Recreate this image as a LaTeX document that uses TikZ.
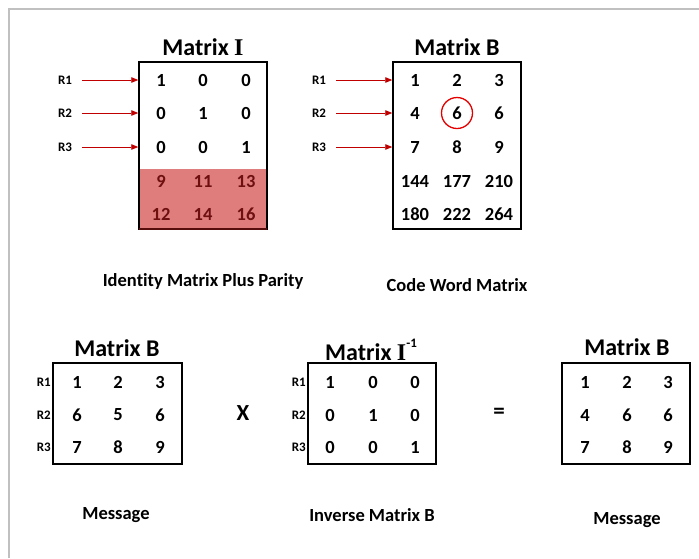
\documentclass[tikz,border=0pt]{standalone}
\usepackage{fontspec}
\setmainfont[Ligatures=CommonOff]{Carlito}
\newfontfamily\slabfont{Liberation Serif}
\usetikzlibrary{arrows.meta,calc}
\definecolor{framegray}{HTML}{C0C0C0}
\definecolor{arrowred}{HTML}{C00000}
\definecolor{parityfill}{HTML}{DF7C7C}
\definecolor{paritytext}{HTML}{6E1010}
\tikzset{
  num/.style={font=\bfseries\fontsize{18.5}{21}\selectfont, inner sep=0pt, anchor=center},
  pnum/.style={num, text=paritytext},
  title/.style={font=\bfseries\fontsize{24}{27}\selectfont, inner sep=0pt},
  rlab/.style={font=\bfseries\fontsize{13}{15}\selectfont, inner sep=0pt},
  caption/.style={font=\bfseries\fontsize{18.5}{21}\selectfont, inner sep=0pt},
  op/.style={font=\bfseries\fontsize{23}{26}\selectfont, inner sep=0pt},
  mbox/.style={draw=black, line width=1.5pt, inner sep=0pt},
  rowarrow/.style={draw=arrowred, line width=0.9pt, -{Triangle[length=7pt,width=5.5pt]}},
}
\newcommand{\slabI}{{\slabfont\bfseries I}}
\newcommand{\invexp}{\raisebox{1.15ex}{\fontsize{13}{13}\selectfont\bfseries -1}}
\begin{document}
\begin{tikzpicture}[x=1pt,y=-1pt]
\useasboundingbox (0,0) rectangle (699,558);
% page frame
\draw[framegray, line width=2pt] (9,558) -- (9,9) -- (699,9);

% ---------- Matrix I with parity rows ----------
\fill[parityfill] (139,169) rectangle (267,229);
\node[mbox, minimum width=128pt, minimum height=167pt] (boxI) at (203,145.5) {};
\draw[paritytext!80!black, line width=1.5pt] (139,229) -- (267,229);
\node[title] (tI) at (203,47) {Matrix \slabI};
\foreach \r/\y in {1/80,2/113,3/147} {
  \node[rlab] (iR\r) at (65,\y) {R\r};
  \draw[rowarrow] ([xshift=10pt]iR\r.east) -- (iR\r -| boxI.west);
}
\node[num] (i11) at (161,80) {1};  \node[num] (i12) at (203,80) {0};  \node[num] (i13) at (246,80) {0};
\node[num] (i21) at (161,113) {0}; \node[num] (i22) at (203,113) {1}; \node[num] (i23) at (246,113) {0};
\node[num] (i31) at (161,147) {0}; \node[num] (i32) at (203,147) {0}; \node[num] (i33) at (246,147) {1};
\node[pnum] (i41) at (161,181) {9};  \node[pnum] (i42) at (203,181) {11}; \node[pnum] (i43) at (246,181) {13};
\node[pnum] (i51) at (161,214) {12}; \node[pnum] (i52) at (203,214) {14}; \node[pnum] (i53) at (246,214) {16};
\node[caption] (capI) at (203,281) {Identity Matrix Plus Parity};

% ---------- Code word matrix ----------
\node[mbox, minimum width=128pt, minimum height=167pt] (boxC) at (457,145.5) {};
\node[title] (tC) at (457,47) {Matrix B};
\foreach \r/\y in {1/80,2/113,3/147} {
  \node[rlab] (cR\r) at (319,\y) {R\r};
  \draw[rowarrow] ([xshift=10pt]cR\r.east) -- (cR\r -| boxC.west);
}
\node[num] (c11) at (415,80) {1};  \node[num] (c12) at (457,80) {2};  \node[num] (c13) at (499,80) {3};
\node[num] (c21) at (415,113) {4}; \node[num] (c22) at (457,113) {6}; \node[num] (c23) at (499,113) {6};
\node[num] (c31) at (415,147) {7}; \node[num] (c32) at (457,147) {8}; \node[num] (c33) at (499,147) {9};
\node[num] (c41) at (415,181) {144}; \node[num] (c42) at (457,181) {177}; \node[num] (c43) at (499,181) {210};
\node[num] (c51) at (415,214) {180}; \node[num] (c52) at (457,214) {222}; \node[num] (c53) at (499,214) {264};
\node[draw=red!90!black, line width=1.3pt, circle, minimum size=31pt, inner sep=0pt] (mark) at (c22) {};
\node[caption] (capC) at (457,285) {Code Word Matrix};

% ---------- Received message ----------
\node[mbox, minimum width=129pt, minimum height=101pt] (boxM) at (117.5,413.5) {};
\node[title] (tM) at (117,348) {Matrix B};
\foreach \r/\y in {1/382,2/415,3/447} \node[rlab, anchor=east] (mR\r) at (51,\y) {R\r};
\node[num] (m11) at (77,382) {1}; \node[num] (m12) at (118,382) {2}; \node[num] (m13) at (160,382) {3};
\node[num] (m21) at (77,415) {6}; \node[num] (m22) at (118,415) {5}; \node[num] (m23) at (160,415) {6};
\node[num] (m31) at (77,447) {7}; \node[num] (m32) at (118,447) {8}; \node[num] (m33) at (160,447) {9};
\node[caption] (capM) at (116,515) {Message};

\node[op] (times) at (243,413) {X};

% ---------- Inverse matrix ----------
\node[mbox, minimum width=128pt, minimum height=101pt] (boxV) at (372,413.5) {};
\node[title] (tV) at (371,350) {Matrix \slabI\invexp};
\foreach \r/\y in {1/382,2/415,3/447} \node[rlab, anchor=east] (vR\r) at (306,\y) {R\r};
\node[num] (v11) at (330,382) {1}; \node[num] (v12) at (373,382) {0}; \node[num] (v13) at (415,382) {0};
\node[num] (v21) at (330,415) {0}; \node[num] (v22) at (373,415) {1}; \node[num] (v23) at (415,415) {0};
\node[num] (v31) at (330,447) {0}; \node[num] (v32) at (373,447) {0}; \node[num] (v33) at (415,447) {1};
\node[caption] (capV) at (372,515) {Inverse Matrix B};

\node[op] (equals) at (499,413) {=};

% ---------- Corrected message ----------
\node[mbox, minimum width=128pt, minimum height=101pt] (boxR) at (626,413.5) {};
\node[title] (tR) at (627,347) {Matrix B};
\node[num] (r11) at (585,382) {1}; \node[num] (r12) at (627,382) {2}; \node[num] (r13) at (668,382) {3};
\node[num] (r21) at (585,415) {4}; \node[num] (r22) at (627,415) {6}; \node[num] (r23) at (668,415) {6};
\node[num] (r31) at (585,447) {7}; \node[num] (r32) at (627,447) {8}; \node[num] (r33) at (668,447) {9};
\node[caption] (capR) at (627,520) {Message};
\end{tikzpicture}
\end{document}
